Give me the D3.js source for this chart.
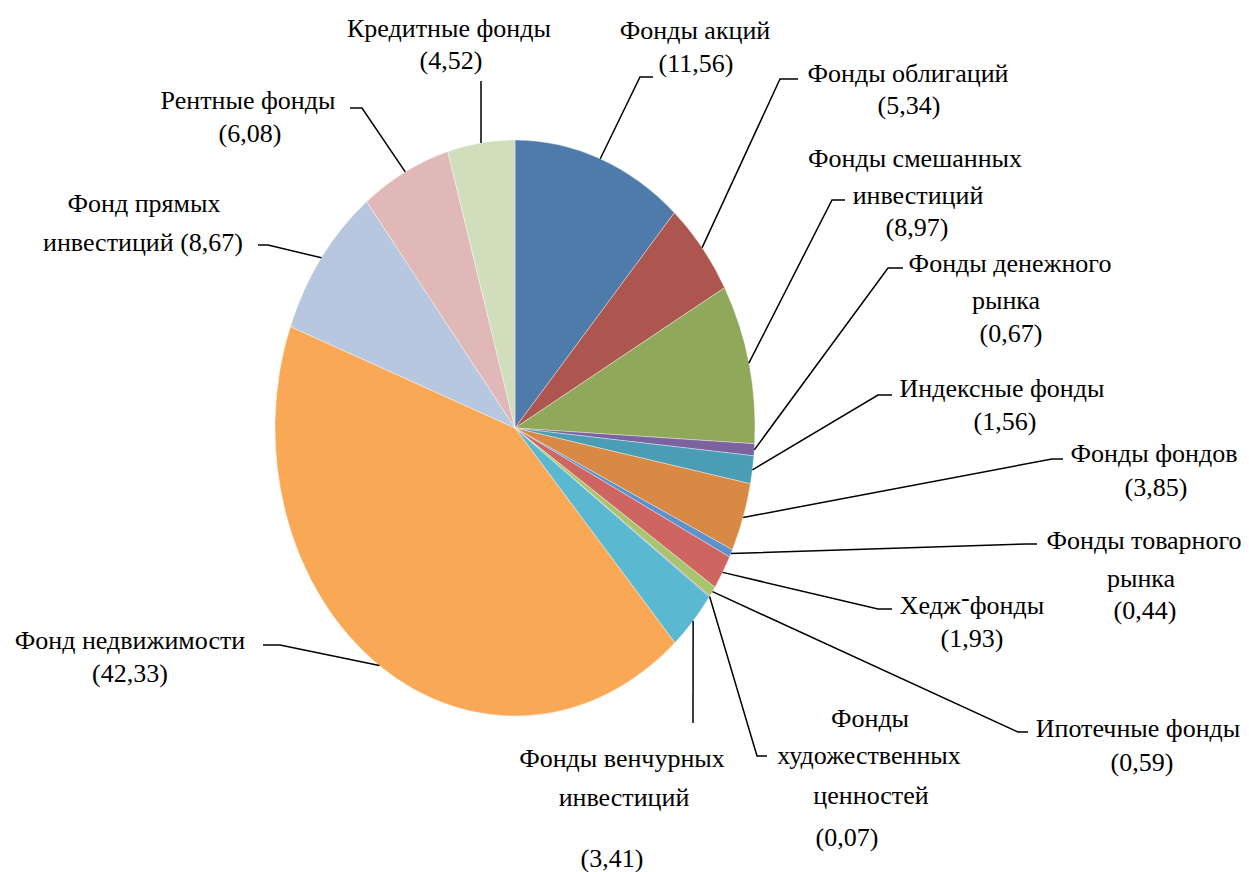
<!DOCTYPE html>
<html><head><meta charset="utf-8">
<script src="https://cdn.jsdelivr.net/npm/d3@7"></script>
</head><body style="margin:0;background:#fff"><svg id="chart" width="1249" height="872" font-family="Liberation Serif" style="display:block"></svg>
<script>
const categories = ["Фонды акций","Фонды облигаций","Фонды смешанных инвестиций","Фонды денежного рынка","Индексные фонды","Фонды фондов","Фонды товарного рынка","Хедж-фонды","Ипотечные фонды","Фонды художественных ценностей","Фонды венчурных инвестиций","Фонд недвижимости","Фонд прямых инвестиций","Рентные фонды","Кредитные фонды"];
const values = [11.56,5.34,8.97,0.67,1.56,3.85,0.44,1.93,0.59,0.07,3.41,42.33,8.67,6.08,4.52];
const colors = ["#4F7BAB","#AD5650","#8FA85A","#7D62A0","#4B9DB5","#D88A45","#5C91CB","#CF6561","#A8C46C","#9B86BC","#5BB8D1","#F9A856","#B8C7E0","#E0B8B7","#D1DEBC"];

// label layout: lines [text, cx, cy]; {v} = value; leader bend & end
const labelLayout = [
 {lines:[["Фонды акций",695,30],["({v})",696,63]], bend:[640,77], end:[653,77]},
 {lines:[["Фонды облигаций",908,73],["({v})",909,105]], bend:[780,79], end:[798,79]},
 {lines:[["Фонды смешанных",915,158],["инвестиций",918,195],["({v})",917,227]], bend:[832,200], end:[845,200]},
 {lines:[["Фонды денежного",1010,263],["рынка",1006,300],["({v})",1011,333]], bend:[888,268], end:[903,268]},
 {lines:[["Индексные фонды",1002,388],["({v})",1005,421]], bend:[878,395], end:[892,395]},
 {lines:[["Фонды фондов",1154,453],["({v})",1156,487]], bend:[1052,459], end:[1063,459]},
 {lines:[["Фонды товарного",1144,540],["рынка",1141,578],["({v})",1145,610]], bend:[1027,544], end:[1037,544]},
 {lines:[["HEDGE",972,605],["({v})",972,638]], bend:[878,609], end:[892,609]},
 {lines:[["Ипотечные фонды",1138,728],["({v})",1142,762]], bend:[1018,732], end:[1028,732]},
 {lines:[["Фонды",870,718],["художественных",869,755],["ценностей",871,795],["({v})",847,837]], bend:[757,756], end:[767,756]},
 {lines:[["Фонды венчурных",622,758],["инвестиций",624,797],["({v})",612,858]], bend:[693,723], end:[693,723]},
 {lines:[["Фонд недвижимости",130,640],["({v})",130,673]], bend:[280,645], end:[263,645]},
 {lines:[["Фонд прямых",144,203],["инвестиций ({v})",143,242]], bend:[268,245], end:[258,245]},
 {lines:[["Рентные фонды",248,100],["({v})",250,133]], bend:[362,108], end:[350,108]},
 {lines:[["Кредитные фонды",449,28],["({v})",451,60]], bend:[481,81], end:[481,81]}
];

const svg = d3.select("#chart");
const cx = 515, cy = 428, rx = 240, ry = 288;
const fmt = v => d3.format(".2f")(v).replace(".", ",");

const pie = d3.pie().sort(null).value(d => d)(values);
const arc = d3.arc().innerRadius(0).outerRadius(ry);

const g = svg.append("g").attr("transform", `translate(${cx},${cy}) scale(${rx/ry},1)`);
g.selectAll("path").data(pie).join("path")
  .attr("d", arc)
  .attr("fill", (d,i) => colors[i])
  .attr("stroke", "#fff").attr("stroke-width", 0.4);

// leader lines
const edge = d => {
  const a = (d.startAngle + d.endAngle) / 2;
  return [cx + rx * Math.sin(a), cy - ry * Math.cos(a)];
};
svg.append("g").selectAll("polyline").data(pie).join("polyline")
  .attr("points", (d,i) => [edge(d), labelLayout[i].bend, labelLayout[i].end].map(p => p.join(",")).join(" "))
  .attr("fill", "none").attr("stroke", "#000").attr("stroke-width", 1.5);

// labels
pie.forEach((d,i) => {
  labelLayout[i].lines.forEach(([t, x, y]) => {
    const txt = svg.append("text")
      .attr("font-family", "Liberation Serif").attr("font-size", 26)
      .attr("x", x).attr("y", y + 9).attr("text-anchor", "middle");
    if (t === "HEDGE") {
      txt.append("tspan").text("Хедж");
      txt.append("tspan").attr("dy", -8).text("-");
      txt.append("tspan").attr("dy", 8).text("фонды");
    } else {
      txt.text(t.replace("{v}", fmt(d.data)));
    }
  });
});
</script></body></html>
